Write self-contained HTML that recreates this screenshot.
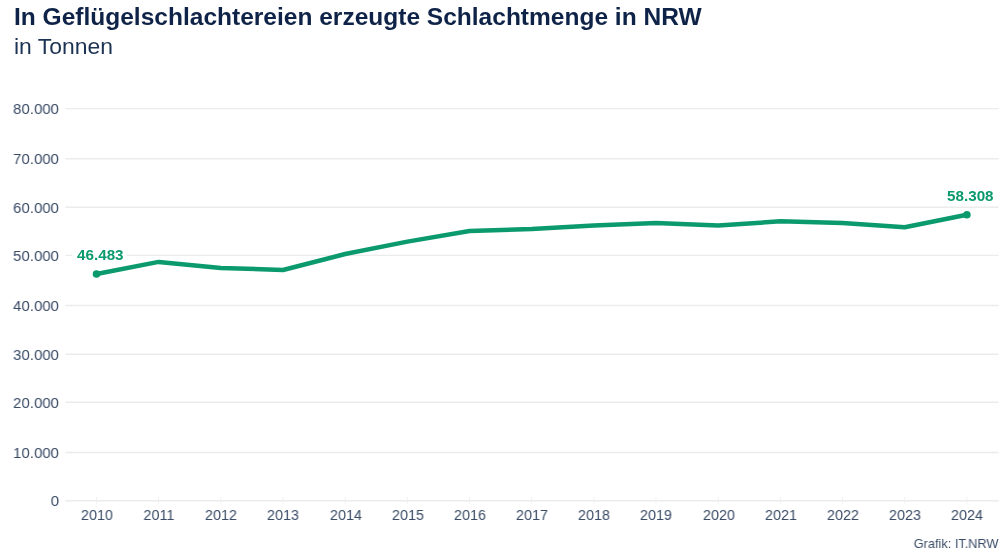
<!DOCTYPE html>
<html><head><meta charset="utf-8">
<style>
html,body{margin:0;padding:0;background:#fff;}
body{width:1000px;height:552px;overflow:hidden;position:relative;font-family:"Liberation Sans",sans-serif;}
.t{position:absolute;white-space:nowrap;}
.yl,.xl,.dl,.t{will-change:transform;}
#title{left:14px;top:4px;font-size:23px;line-height:27px;font-weight:bold;color:#0e2347;transform:scaleX(1.066);transform-origin:0 0;}
#sub{left:14px;top:33.2px;font-size:22.6px;line-height:27px;color:#1d3353;transform:scaleX(1.015);transform-origin:0 0;}
.yl{position:absolute;left:0;width:59px;text-align:right;font-size:15.5px;line-height:18px;transform:scaleX(0.968);transform-origin:59px 0;color:#3a4b66;white-space:nowrap;}
.xl{position:absolute;top:505.5px;width:60px;text-align:center;font-size:15px;line-height:18px;transform:scaleX(0.96);transform-origin:30px 0;color:#3a4b66;white-space:nowrap;}
.dl{position:absolute;transform:scaleX(1.015);transform-origin:0 0;text-shadow:0 0 2px #fff,0 0 2px #fff,0 0 3px #fff;font-size:15px;line-height:18px;font-weight:bold;color:#0b9a6d;white-space:nowrap;}
#src{right:2px;top:535.5px;font-size:13px;line-height:15px;transform:scaleX(0.98);transform-origin:100% 0;color:#3a4b66;}
svg{position:absolute;left:0;top:0;}
</style></head><body>
<div id="title" class="t">In Geflügelschlachtereien erzeugte Schlachtmenge in NRW</div>
<div id="sub" class="t">in Tonnen</div>
<svg width="1000" height="552" viewBox="0 0 1000 552">
<g stroke="#ececec" stroke-width="1.4">
<line x1="65.5" x2="998.5" y1="108.60" y2="108.60"/>
<line x1="65.5" x2="998.5" y1="158.70" y2="158.70"/>
<line x1="65.5" x2="998.5" y1="207.30" y2="207.30"/>
<line x1="65.5" x2="998.5" y1="255.40" y2="255.40"/>
<line x1="65.5" x2="998.5" y1="305.50" y2="305.50"/>
<line x1="65.5" x2="998.5" y1="354.20" y2="354.20"/>
<line x1="65.5" x2="998.5" y1="402.30" y2="402.30"/>
<line x1="65.5" x2="998.5" y1="452.50" y2="452.50"/>
<line x1="65.5" x2="998.5" y1="500.80" y2="500.80"/>
</g>
<g stroke="#f1f1f1" stroke-width="1">
<line x1="96.50" x2="96.50" y1="496.80" y2="503.80"/>
<line x1="158.67" x2="158.67" y1="496.80" y2="503.80"/>
<line x1="220.84" x2="220.84" y1="496.80" y2="503.80"/>
<line x1="283.01" x2="283.01" y1="496.80" y2="503.80"/>
<line x1="345.18" x2="345.18" y1="496.80" y2="503.80"/>
<line x1="407.35" x2="407.35" y1="496.80" y2="503.80"/>
<line x1="469.52" x2="469.52" y1="496.80" y2="503.80"/>
<line x1="531.69" x2="531.69" y1="496.80" y2="503.80"/>
<line x1="593.86" x2="593.86" y1="496.80" y2="503.80"/>
<line x1="656.03" x2="656.03" y1="496.80" y2="503.80"/>
<line x1="718.20" x2="718.20" y1="496.80" y2="503.80"/>
<line x1="780.37" x2="780.37" y1="496.80" y2="503.80"/>
<line x1="842.54" x2="842.54" y1="496.80" y2="503.80"/>
<line x1="904.71" x2="904.71" y1="496.80" y2="503.80"/>
<line x1="966.88" x2="966.88" y1="496.80" y2="503.80"/>
</g>
<rect x="72" y="252" width="55" height="7" fill="#fff"/>
<polyline fill="none" stroke="#0b9a6d" stroke-width="4.5" stroke-linejoin="round" stroke-linecap="round" points="96.5,274.0 158.7,261.9 220.8,267.9 283.0,270.0 345.2,254.0 407.4,241.6 469.5,231.0 531.7,229.1 593.9,225.4 656.0,223.1 718.2,225.5 780.4,221.3 842.5,222.9 904.7,227.2 966.9,214.8"/>
<circle cx="96.5" cy="274.0" r="3.8" fill="#0b9a6d"/>
<circle cx="966.9" cy="214.8" r="3.8" fill="#0b9a6d"/>
</svg>
<div class="yl" style="top:100.1px">80.000</div>
<div class="yl" style="top:150.2px">70.000</div>
<div class="yl" style="top:198.8px">60.000</div>
<div class="yl" style="top:246.9px">50.000</div>
<div class="yl" style="top:297.0px">40.000</div>
<div class="yl" style="top:345.7px">30.000</div>
<div class="yl" style="top:393.8px">20.000</div>
<div class="yl" style="top:444.0px">10.000</div>
<div class="yl" style="top:492.3px">0</div>
<div class="xl" style="left:66.90px">2010</div>
<div class="xl" style="left:129.07px">2011</div>
<div class="xl" style="left:191.24px">2012</div>
<div class="xl" style="left:253.41px">2013</div>
<div class="xl" style="left:315.58px">2014</div>
<div class="xl" style="left:377.75px">2015</div>
<div class="xl" style="left:439.92px">2016</div>
<div class="xl" style="left:502.09px">2017</div>
<div class="xl" style="left:564.26px">2018</div>
<div class="xl" style="left:626.43px">2019</div>
<div class="xl" style="left:688.60px">2020</div>
<div class="xl" style="left:750.77px">2021</div>
<div class="xl" style="left:812.94px">2022</div>
<div class="xl" style="left:875.11px">2023</div>
<div class="xl" style="left:937.28px">2024</div>
<div class="dl" style="left:77px;top:246.3px">46.483</div>
<div class="dl" style="left:947px;top:186.7px">58.308</div>
<div id="src" class="t">Grafik: IT.NRW</div>
</body></html>
